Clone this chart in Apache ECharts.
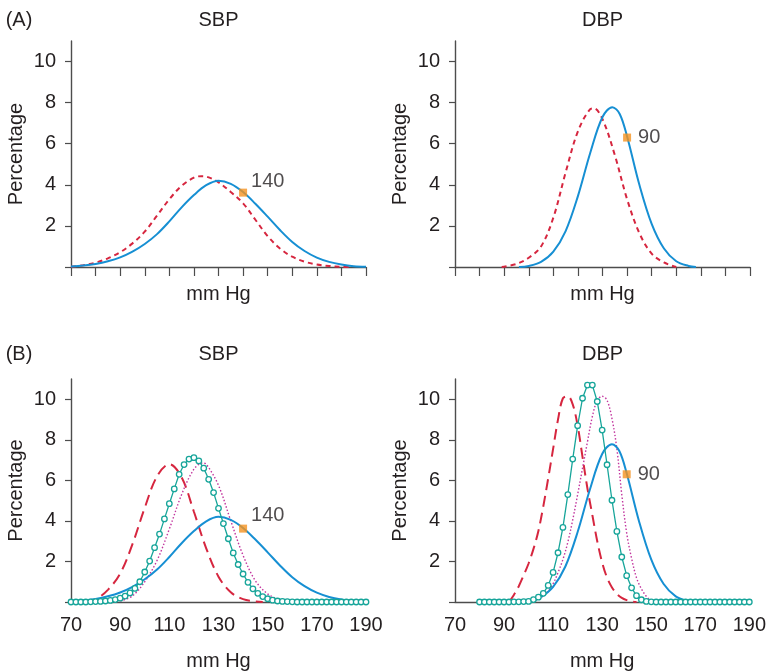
<!DOCTYPE html>
<html><head><meta charset="utf-8">
<script src="https://cdn.jsdelivr.net/npm/echarts@6/dist/echarts.min.js"></script>
<style>html,body{margin:0;padding:0;background:#fff}#c{width:769px;height:672px}</style>
</head><body><div id="c"></div>
<script>
// ---- data (x = mm Hg position on a 70-190 scale, y = percentage) ----
const xTickValues = [70, 80, 90, 100, 110, 120, 130, 140, 150, 160, 170, 180, 190];
const yTickValues = [0, 2, 4, 6, 8, 10];
const yLabelValues = [2, 4, 6, 8, 10];

// SBP, solid blue (same curve in A and B)
const sbpBlueX = [70,75,80,85,90,95,100,105,110,115,120,125,130,135,140,145,150,155,160,165,170,175,180,185,190];
const sbpBlueY = [0.02,0.07,0.15,0.28,0.47,0.75,1.12,1.6,2.22,2.9,3.5,3.98,4.2,4.05,3.65,3.08,2.45,1.8,1.22,0.78,0.46,0.25,0.12,0.04,0.01];
// SBP (A), red short dashes
const sbpRedAX = [70,75,80,85,90,95,100,105,110,115,120,123,125,130,135,140,145,150,155,160,165,170,175,180,183];
const sbpRedAY = [0.01,0.08,0.21,0.42,0.72,1.15,1.72,2.5,3.3,3.95,4.35,4.42,4.4,4.12,3.65,3.1,2.3,1.5,0.9,0.5,0.26,0.12,0.05,0.01,0];
// DBP, solid blue (same curve in A and B)
const dbpBlueX = [96,100,105,110,115,120,125,130,134,137,140,145,150,155,160,165,168];
const dbpBlueY = [0,0.05,0.25,0.75,1.75,3.45,5.55,7.3,7.78,7.45,6.35,4.0,2.1,0.9,0.28,0.05,0];
// DBP (A), red short dashes
const dbpRedAX = [89,95,100,105,110,115,120,125,126.5,130,135,140,145,150,155,160];
const dbpRedAY = [0,0.15,0.45,1.0,2.4,4.6,6.6,7.68,7.72,7.2,5.45,3.3,1.65,0.65,0.22,0];

// SBP (B), red long dashes
const sbpRedBX = [76,80,85,90,95,100,105,110,115,120,125,130,135,140,145,148];
const sbpRedBY = [0,0.12,0.6,1.4,2.85,4.65,6.2,6.8,6.15,4.45,2.65,1.25,0.48,0.14,0.03,0];
// SBP (B), teal with open circles
const sbpTealX = [70,72,74,76,78,80,82,84,86,88,90,92,94,96,98,100,102,104,106,108,110,112,114,116,118,120,122,124,126,128,130,132,134,136,138,140,142,144,146,148,150,152,154,156,158,160,162,164,166,168,170,172,174,176,178,180,182,184,186,188,190];
const sbpTealY = [0,0,0,0,0.01,0.02,0.03,0.05,0.08,0.12,0.19,0.29,0.45,0.67,1.0,1.48,2.02,2.68,3.35,4.1,4.85,5.58,6.3,6.78,7.05,7.12,6.96,6.6,6.05,5.4,4.62,3.87,3.12,2.42,1.85,1.38,0.97,0.65,0.43,0.27,0.16,0.09,0.05,0.03,0.02,0.01,0,0,0,0,0,0,0,0,0,0,0,0,0,0,0];
// SBP (B), magenta dots
const sbpMagX = [90,95,100,105,110,115,120,123.5,125,130,135,140,145,150,155,160];
const sbpMagY = [0.05,0.3,1.0,2.05,3.6,5.3,6.55,6.85,6.8,5.75,4.0,2.3,1.05,0.4,0.12,0.02];

// DBP (B), red long dashes
const dbpRedBX = [92,94,96,98,100,102,104,106,108,110,112,114,116,118,120,122,124,126,128,130,132,134,136,138,140,142,144];
const dbpRedBY = [0,0.35,0.78,1.32,1.9,2.62,3.5,4.72,6.1,7.55,9.0,10.05,10.15,9.75,8.7,7.15,5.6,4.29,3.0,1.95,1.2,0.72,0.4,0.2,0.09,0.03,0];
// DBP (B), teal with open circles
const dbpTealX = [80,82,84,86,88,90,92,94,96,98,100,102,104,106,108,110,112,114,116,118,120,122,124,126,128,130,132,134,136,138,140,142,144,146,148,150,152,154,156,158,160,162,164,166,168,170,172,174,176,178,180,182,184,186,188,190];
const dbpTealY = [0,0,0,0,0,0,0,0.01,0.01,0.02,0.03,0.12,0.24,0.43,0.82,1.46,2.43,3.68,5.3,7.05,8.7,10.05,10.7,10.7,9.89,8.48,6.77,5.02,3.48,2.22,1.3,0.7,0.31,0.11,0.03,0.01,0,0,0,0,0,0,0,0,0,0,0,0,0,0,0,0,0,0,0,0];
// DBP (B), magenta dots
const dbpMagX = [100,102,104,106,108,110,112,114,116,118,120,122,124,126,128,130,132,134,136,138,140,142,144,146,148,150,152];
const dbpMagY = [0,0.05,0.15,0.3,0.55,0.9,1.45,2.1,2.95,4.05,5.3,6.6,7.9,9.15,9.95,10.15,9.95,9.05,7.55,5.3,3.4,2.15,1.2,0.65,0.28,0.07,0];

// threshold markers
const markerLabels = ['140', '90'];
const markerX = [140, 140];
const markerY = [3.62, 6.3];

const panelTitles = ['SBP', 'DBP', 'SBP', 'DBP'];
const panelLetters = ['(A)', '(B)'];
const xName = 'mm Hg';
const yName = 'Percentage';

// ---- styling ----
const FONT = '"Liberation Sans", Arial, Helvetica, sans-serif';
const FS = 20;
const TXT = '#231f20';
const AX = '#4d4d4d';
const BLUE = '#168fd3';
const RED = '#d6263f';
const TEAL = '#17a59a';
const MAG = '#c2359e';
const ORANGE = '#f5921f';

const zip = (xs, ys) => xs.map((x, i) => [x, ys[i]]);

const grids = [
  {left: 71, top: 41, width: 295, height: 226},
  {left: 455, top: 41, width: 295, height: 226},
  {left: 71, top: 379, width: 295, height: 226},
  {left: 455, top: 379, width: 295, height: 226}
];

function xAxisFor(i) {
  const isB = i >= 2;
  return {
    gridIndex: i, type: 'value', min: 70, max: 190, interval: 10,
    axisLine: {show: true, onZero: false, lineStyle: {color: AX, width: 1.4}},
    axisTick: {show: !isB, length: 9, inside: false, lineStyle: {color: AX, width: 1.2}},
    axisLabel: {
      show: isB, margin: 13, fontSize: FS, fontFamily: FONT, color: TXT,
      formatter: v => ((v - 70) % 20 === 0 ? String(v) : '')
    },
    splitLine: {show: false},
    name: xName, nameLocation: 'middle', nameGap: isB ? 49 : 17,
    nameTextStyle: {fontSize: FS, fontFamily: FONT, color: TXT}
  };
}
function yAxisFor(i) {
  return {
    gridIndex: i, type: 'value', min: 0, max: 11,
    axisLine: {show: true, onZero: false, lineStyle: {color: AX, width: 1.4}},
    axisTick: {show: true, length: 6, customValues: yTickValues, lineStyle: {color: AX, width: 1.2}},
    axisLabel: {show: true, customValues: yLabelValues, margin: 15, fontSize: FS, fontFamily: FONT, color: TXT},
    splitLine: {show: false},
    name: yName, nameLocation: 'middle', nameGap: 45,
    nameTextStyle: {fontSize: FS, fontFamily: FONT, color: TXT}
  };
}

function lineSeries(gi, xs, ys, color, width, type, z) {
  return {
    type: 'line', xAxisIndex: gi, yAxisIndex: gi, data: zip(xs, ys),
    smooth: 0.35, showSymbol: false, symbol: 'none',
    lineStyle: {color: color, width: width, type: type, cap: 'butt'}, z: z, silent: true
  };
}
function tealSeries(gi, xs, ys) {
  return {
    type: 'line', xAxisIndex: gi, yAxisIndex: gi, data: zip(xs, ys),
    smooth: false, symbol: 'circle', symbolSize: 5.5, showSymbol: true, showAllSymbol: true,
    itemStyle: {color: '#ffffff', borderColor: TEAL, borderWidth: 1.3},
    lineStyle: {color: TEAL, width: 1.3}, z: 5, silent: true
  };
}
function markerSeries(gi, k, dy) {
  return {
    type: 'scatter', xAxisIndex: gi, yAxisIndex: gi,
    data: [[markerX[k], markerY[k]]], symbol: 'rect', symbolSize: 8,
    itemStyle: {color: ORANGE}, z: 10, silent: true,
    label: {show: true, formatter: markerLabels[k], position: 'right', distance: k === 0 ? 4 : 7,
            offset: [0, dy], fontSize: FS, fontFamily: FONT, color: TXT}
  };
}

const series = [
  // A SBP
  lineSeries(0, sbpRedAX, sbpRedAY, RED, 2, [5, 4], 3),
  lineSeries(0, sbpBlueX, sbpBlueY, BLUE, 2, 'solid', 4),
  markerSeries(0, 0, -11),
  // A DBP
  lineSeries(1, dbpRedAX, dbpRedAY, RED, 2, [5, 4], 3),
  lineSeries(1, dbpBlueX, dbpBlueY, BLUE, 2, 'solid', 4),
  markerSeries(1, 1, 0),
  // B SBP
  lineSeries(2, sbpRedBX, sbpRedBY, RED, 2, [11, 6], 3),
  lineSeries(2, sbpMagX, sbpMagY, MAG, 1.4, [1.5, 2], 3),
  lineSeries(2, sbpBlueX, sbpBlueY, BLUE, 2, 'solid', 4),
  tealSeries(2, sbpTealX, sbpTealY),
  markerSeries(2, 0, -13),
  // B DBP
  lineSeries(3, dbpRedBX, dbpRedBY, RED, 2, [11, 6], 3),
  lineSeries(3, dbpMagX, dbpMagY, MAG, 1.4, [1.5, 2], 3),
  lineSeries(3, dbpBlueX, dbpBlueY, BLUE, 2, 'solid', 4),
  tealSeries(3, dbpTealX, dbpTealY),
  markerSeries(3, 1, 0)
];

const titleCenters = [[218.5, 20], [602.5, 20], [218.5, 354], [602.5, 354]];
const letterPos = [[19, 20], [19, 354]];
const graphic = [];
panelTitles.forEach((t, i) => graphic.push({
  type: 'text', x: titleCenters[i][0], y: titleCenters[i][1], silent: true,
  style: {text: t, font: FS + 'px ' + FONT, fill: TXT, align: 'center', verticalAlign: 'middle'}
}));
panelLetters.forEach((t, i) => graphic.push({
  type: 'text', x: letterPos[i][0], y: letterPos[i][1], silent: true,
  style: {text: t, font: FS + 'px ' + FONT, fill: TXT, align: 'center', verticalAlign: 'middle'}
}));

const chart = echarts.init(document.getElementById('c'), null, {renderer: 'canvas'});
chart.setOption({
  animation: false,
  backgroundColor: '#ffffff',
  grid: grids,
  xAxis: [0, 1, 2, 3].map(xAxisFor),
  yAxis: [0, 1, 2, 3].map(yAxisFor),
  series: series,
  graphic: graphic
});
</script>
</body></html>
